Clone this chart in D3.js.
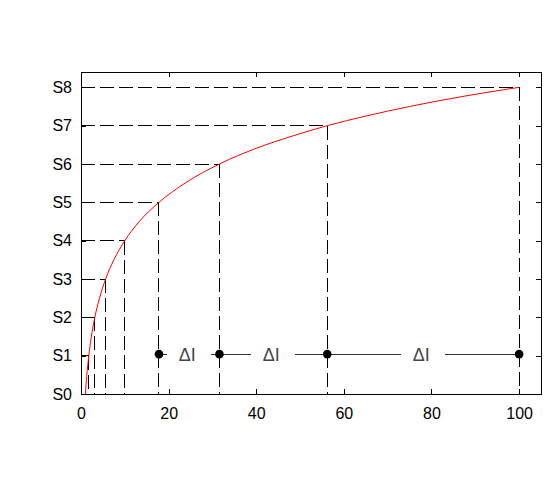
<!DOCTYPE html>
<html>
<head>
<meta charset="utf-8">
<script src="https://cdn.jsdelivr.net/npm/d3@7"></script>
<style>
  body { margin: 0; background: #fff; }
  text { font-family: "Liberation Sans", Arial, sans-serif; }
</style>
</head>
<body>
<div id="chart"></div>
<script>
// levels S1..S8 and where the curve reaches them
var levels = [1, 2, 3, 4, 5, 6, 7, 8];
var levelX = [1.78, 3.16, 5.62, 10, 17.8, 31.6, 56.2, 100];

// red curve, points
var curveX = [1, 1.3, 1.78, 2.3, 3.16, 4.2, 5.62, 7.5, 10, 13, 17.8, 24, 31.6, 40, 48, 56.2, 65, 75, 87, 100];
var curveS = [0, 0.46, 1, 1.45, 2, 2.49, 3, 3.5, 4, 4.46, 5, 5.52, 6, 6.41, 6.72, 7, 7.25, 7.5, 7.76, 8];

// ΔI markers
var markerX = [17.8, 31.6, 56.2, 100];
var markerS = 1.04;

var xTicks = [0, 20, 40, 60, 80, 100];
var yTicks = [0, 1, 2, 3, 4, 5, 6, 7, 8];

var width = 556, height = 480;
var plotL = 81, plotR = 541, plotT = 72, plotB = 394;

var svg = d3.select("#chart").append("svg")
    .attr("width", width)
    .attr("height", height);

var x = d3.scaleLinear().domain([0, 105]).range([plotL, plotR]);
var y = d3.scaleLinear().domain([0, 8.4]).range([plotB, plotT]);

//dashed guide lines
var guides = svg.append("g")
    .attr("stroke", "#000")
    .attr("stroke-width", 1)
    .attr("stroke-dasharray", "14,5")
    .attr("shape-rendering", "crispEdges");

levels.forEach(function(s, i) {
  guides.append("line")
      .attr("x1", x(0)).attr("x2", x(levelX[i]))
      .attr("y1", y(s)).attr("y2", y(s));
  guides.append("line")
      .attr("x1", x(levelX[i])).attr("x2", x(levelX[i]))
      .attr("y1", y(s)).attr("y2", y(0));
});

// curve
var line = d3.line()
    .x(function(d) { return x(d[0]); })
    .y(function(d) { return y(d[1]); })
    .curve(d3.curveMonotoneX);

svg.append("path")
    .datum(d3.zip(curveX, curveS))
    .attr("fill", "none")
    .attr("stroke", "#ff0000")
    .attr("stroke-width", 1)
    .attr("d", line);

// ΔI segments between markers
var gap = 22;
for (var i = 0; i < markerX.length - 1; i++) {
  var a = x(markerX[i]), b = x(markerX[i + 1]), m = (a + b) / 2;
  var yy = y(markerS);
  svg.append("line")
      .attr("x1", a).attr("x2", m - gap)
      .attr("y1", yy).attr("y2", yy)
      .attr("stroke", "#333")
      .attr("shape-rendering", "crispEdges");
  svg.append("line")
      .attr("x1", m + gap).attr("x2", b)
      .attr("y1", yy).attr("y2", yy)
      .attr("stroke", "#333")
      .attr("shape-rendering", "crispEdges");
  svg.append("text")
      .attr("x", m - 2)
      .attr("y", yy + 7)
      .attr("text-anchor", "middle")
      .style("font-size", "18px")
      .attr("fill", "#444")
      .text("\u0394I");
}

svg.selectAll("circle.mark")
    .data(markerX)
    .enter().append("circle")
    .attr("class", "mark")
    .attr("cx", function(d) { return x(d); })
    .attr("cy", y(markerS))
    .attr("r", 4.3)
    .attr("fill", "#000");

// axes, ticks pointing inward
var xAxis = d3.axisBottom(x).tickValues(xTicks).tickSizeInner(-5).tickSizeOuter(0).tickPadding(14);
var yAxis = d3.axisLeft(y).tickValues(yTicks).tickSizeInner(-5).tickSizeOuter(0).tickPadding(9)
    .tickFormat(function(d) { return "S" + d; });

svg.append("g").attr("transform", "translate(0," + plotB + ")").call(xAxis);
svg.append("g").attr("transform", "translate(" + plotL + ",0)").call(yAxis);
svg.append("g").attr("transform", "translate(0," + plotT + ")")
    .call(d3.axisTop(x).tickValues(xTicks).tickSizeInner(-5).tickSizeOuter(0).tickFormat(""));
svg.append("g").attr("transform", "translate(" + plotR + ",0)")
    .call(d3.axisRight(y).tickValues(yTicks).tickSizeInner(-5).tickSizeOuter(0).tickFormat(""));

svg.selectAll(".tick text")
    .style("font-size", "16px")
    .style("font-family", "Liberation Sans, Arial, sans-serif")
    .attr("fill", "#000");
svg.selectAll(".domain").remove();
svg.selectAll(".tick line").attr("shape-rendering", "crispEdges");

svg.append("rect")
    .attr("x", plotL).attr("y", plotT)
    .attr("width", plotR - plotL).attr("height", plotB - plotT)
    .attr("fill", "none")
    .attr("stroke", "#000")
    .attr("shape-rendering", "crispEdges");
</script>
</body>
</html>
